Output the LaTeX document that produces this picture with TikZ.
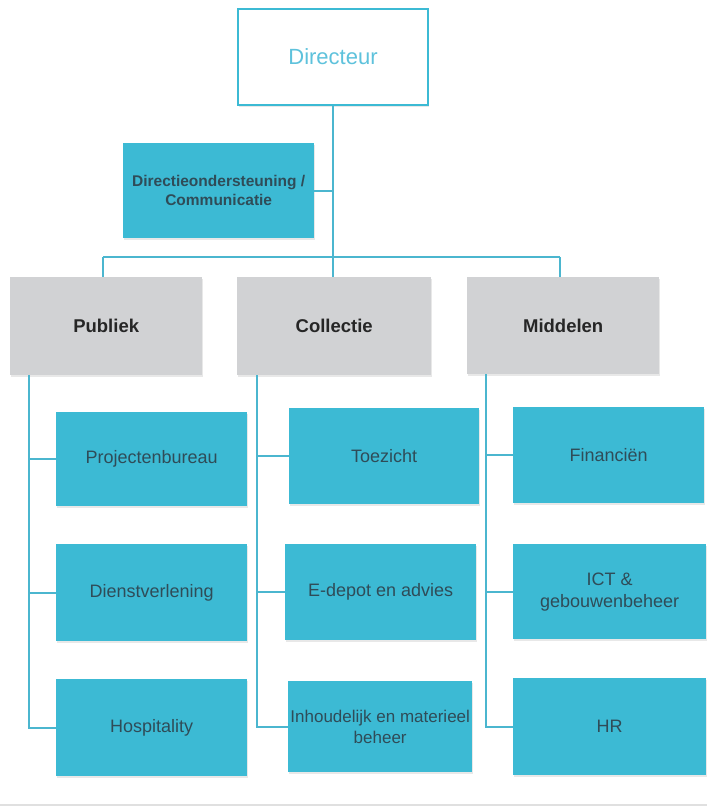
\documentclass[tikz,border=0pt]{standalone}
\usepackage{fontspec}
\setmainfont{Liberation Sans}
\usetikzlibrary{shadows}
\definecolor{cyanbox}{HTML}{3CBAD4}
\definecolor{greybox}{HTML}{D1D2D4}
\definecolor{linecol}{HTML}{4BB6CF}
\definecolor{boxtext}{HTML}{2F4C58}
\definecolor{dirtext}{HTML}{5EC2DC}
\tikzset{
  x=1pt, y=-1pt,
  base/.style={rectangle, inner sep=1pt, align=center, anchor=north west,
    drop shadow={opacity=0.18, shadow xshift=1pt, shadow yshift=-1.5pt}},
  topbox/.style={base, draw=cyanbox, line width=2pt, fill=white, text=dirtext,
    font=\fontsize{22}{25}\selectfont},
  unitbox/.style={base, fill=cyanbox, text=boxtext, font=\fontsize{18}{22}\selectfont},
  longbox/.style={unitbox, font=\fontsize{17}{21}\selectfont},
  staffbox/.style={base, fill=cyanbox, text=boxtext, font=\bfseries\fontsize{15.5}{19}\selectfont},
  groupbox/.style={base, fill=greybox, text=black!85, font=\bfseries\fontsize{18.5}{22}\selectfont},
  conn/.style={draw=linecol, line width=1.8pt}
}
\newcommand{\bx}[7]{\node[#1, minimum width=#5, minimum height=#6] (#2) at (#3,#4) {#7};}
\begin{document}
\begin{tikzpicture}
\useasboundingbox (0,0) rectangle (707,809);
\fill[white] (0,0) rectangle (707,809);
% boxes
\bx{topbox}{dir}{237}{8}{190pt}{96pt}{Directeur}
\bx{staffbox}{dos}{123}{143}{191pt}{95pt}{Directieondersteuning /\\Communicatie}
\bx{groupbox}{pub}{10}{277}{192pt}{98pt}{Publiek}
\bx{groupbox}{col}{237}{277}{194pt}{98pt}{Collectie}
\bx{groupbox}{mid}{467}{277}{192pt}{97pt}{Middelen}
\bx{unitbox}{proj}{56}{412}{191pt}{94pt}{Projectenbureau}
\bx{unitbox}{dienst}{56}{544}{191pt}{97pt}{Dienstverlening}
\bx{unitbox}{hosp}{56}{679}{191pt}{97pt}{Hospitality}
\bx{unitbox}{toe}{289}{408}{190pt}{96pt}{Toezicht}
\bx{unitbox}{edep}{285}{544}{191pt}{96pt}{E-depot en advies}
\bx{longbox}{inh}{288}{681}{184pt}{91pt}{Inhoudelijk en materieel\\beheer}
\bx{unitbox}{fin}{513}{407}{191pt}{96pt}{Financiën}
\bx{unitbox}{ict}{513}{544}{193pt}{95pt}{ICT \&\\gebouwenbeheer}
\bx{unitbox}{hr}{513}{678}{193pt}{97pt}{HR}
% top connectors
\coordinate (barL) at (103,257);
\coordinate (barR) at (560,257);
\draw[conn] (dir.south) -- (dir.south |- col.north);
\draw[conn] (dos.east) -- (dos.east -| dir.south);
\draw[conn] (barL) -- (barR);
\draw[conn] (barL) -- (barL |- pub.north);
\draw[conn] (barR) -- (barR |- mid.north);
% column connectors
\coordinate (v1) at ([xshift=19pt]pub.south west);
\coordinate (v2) at ([xshift=20pt]col.south west);
\coordinate (v3) at ([xshift=19pt]mid.south west);
\draw[conn] (v1) -- (v1 |- hosp.west) -- (hosp.west);
\draw[conn] (v1 |- proj.west) -- (proj.west);
\draw[conn] (v1 |- dienst.west) -- (dienst.west);
\draw[conn] (v2) -- (v2 |- inh.west) -- (inh.west);
\draw[conn] (v2 |- toe.west) -- (toe.west);
\draw[conn] (v2 |- edep.west) -- (edep.west);
\draw[conn] (v3) -- (v3 |- hr.west) -- (hr.west);
\draw[conn] (v3 |- fin.west) -- (fin.west);
\draw[conn] (v3 |- ict.west) -- (ict.west);
% page edge
\draw[black!12, line width=2pt] (0,805) -- (707,805);
\end{tikzpicture}
\end{document}
